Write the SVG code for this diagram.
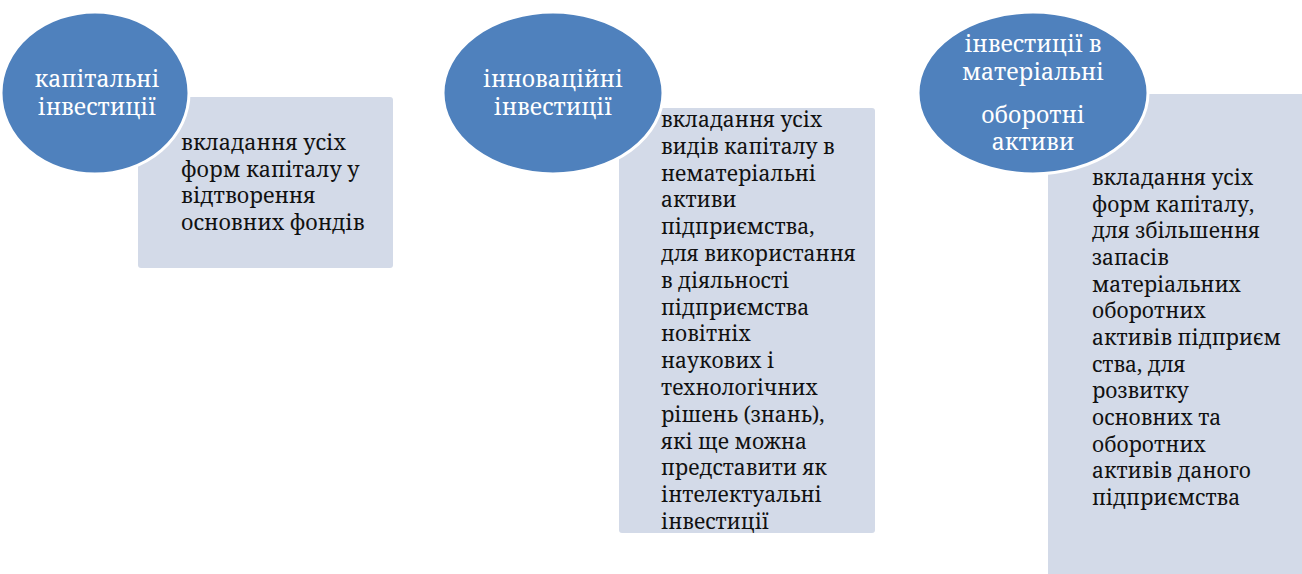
<svg xmlns="http://www.w3.org/2000/svg" width="1302" height="574" viewBox="0 0 1302 574">
<style>
.box{fill:#D3DAE8;}
.oval{fill:#4F81BD;stroke:#FFFFFF;stroke-width:3;}
.ot{font-family:'Noto Serif','DejaVu Serif',serif;font-size:23px;fill:#FFFFFF;text-anchor:middle;}
.bt{font-family:'Noto Serif','DejaVu Serif',serif;font-size:21px;fill:#111111;}
.b1{font-size:21.5px;}
</style>
<rect width="1302" height="574" fill="#FFFFFF"/>
<g id="connectors"></g>
<g id="box1">
<rect class="box" x="138" y="97" width="255" height="171" rx="3"/>
<text class="bt b1">
<tspan x="181" y="150">вкладання усіх</tspan>
<tspan x="181" y="176.7">форм капіталу у</tspan>
<tspan x="181" y="203.4">відтворення</tspan>
<tspan x="181" y="230">основних фондів</tspan>
</text>
</g>
<g id="oval1">
<ellipse class="oval" cx="95" cy="93" rx="94" ry="81"/>
<text class="ot"><tspan x="97" y="87">капітальні</tspan><tspan x="97" y="115">інвестиції</tspan></text>
</g>
<g id="box2">
<rect class="box" x="619" y="108" width="256" height="425" rx="3"/>
</g>
<g id="oval2">
<ellipse class="oval" cx="553" cy="93" rx="110" ry="81"/>
<text class="ot"><tspan x="553" y="87">інноваційні</tspan><tspan x="553" y="115">інвестиції</tspan></text>
</g>
<g id="box2text">
<text class="bt">
<tspan x="661" y="127">вкладання усіх</tspan>
<tspan x="661" y="153.8">видів капіталу в</tspan>
<tspan x="661" y="180.6">нематеріальні</tspan>
<tspan x="661" y="207.4">активи</tspan>
<tspan x="661" y="234.2">підприємства,</tspan>
<tspan x="661" y="261">для використання</tspan>
<tspan x="661" y="287.8">в діяльності</tspan>
<tspan x="661" y="314.6">підприємства</tspan>
<tspan x="661" y="341.4">новітніх</tspan>
<tspan x="661" y="368.2">наукових і</tspan>
<tspan x="661" y="395">технологічних</tspan>
<tspan x="661" y="421.8">рішень (знань),</tspan>
<tspan x="661" y="448.6">які ще можна</tspan>
<tspan x="661" y="475.4">представити як</tspan>
<tspan x="661" y="502.2">інтелектуальні</tspan>
<tspan x="661" y="529">інвестиції</tspan>
</text>
</g>
<g id="box3">
<rect class="box" x="1048" y="94" width="260" height="485" rx="3"/>
</g>
<g id="oval3">
<ellipse class="oval" cx="1033" cy="93" rx="115" ry="81"/>
<text class="ot"><tspan x="1033" y="52">інвестиції в</tspan><tspan x="1033" y="80">матеріальні</tspan><tspan x="1033" y="123">оборотні</tspan><tspan x="1033" y="150">активи</tspan></text>
</g>
<g id="box3text">
<text class="bt">
<tspan x="1092" y="185">вкладання усіх</tspan>
<tspan x="1092" y="211.7">форм капіталу,</tspan>
<tspan x="1092" y="238.3">для збільшення</tspan>
<tspan x="1092" y="265">запасів</tspan>
<tspan x="1092" y="291.7">матеріальних</tspan>
<tspan x="1092" y="318.3">оборотних</tspan>
<tspan x="1092" y="345">активів підприєм</tspan>
<tspan x="1092" y="371.7">ства, для</tspan>
<tspan x="1092" y="398.3">розвитку</tspan>
<tspan x="1092" y="425">основних та</tspan>
<tspan x="1092" y="451.7">оборотних</tspan>
<tspan x="1092" y="478.3">активів даного</tspan>
<tspan x="1092" y="505">підприємства</tspan>
</text>
</g>
</svg>
